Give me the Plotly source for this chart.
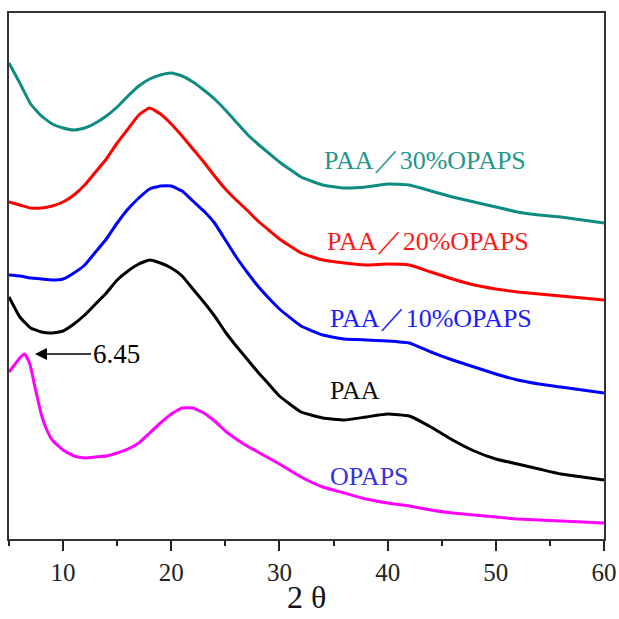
import plotly.graph_objects as go

# 2-theta grid shared by the PAA-based patterns (degrees)
two_theta = [5, 6, 7, 8, 9, 10, 11, 12, 13, 14, 15, 16, 17, 18, 19, 20, 21, 22, 23, 24,
             25, 26, 27, 28, 29, 30, 32, 34, 36, 38, 40, 42, 44, 46, 48, 50, 52, 54, 56, 58, 60]

# OPAPS pattern has its own grid to resolve the sharp low-angle peak at 6.45
two_theta_opaps = [5, 5.5, 6, 6.45, 6.9, 7.5, 8, 8.5, 9, 10, 11, 12, 13, 14, 15, 16, 17, 18,
                   19, 20, 21, 22, 23, 24, 25, 26, 27, 28, 29, 30, 32, 34, 36, 38, 40, 42,
                   44, 46, 48, 50, 52, 54, 56, 58, 60]

# Stacked intensities (a.u., vertically offset)
paa_30 = [476, 456, 435, 423, 415, 411, 409, 411, 416, 423, 432, 443, 453, 460, 464, 466,
          463, 457, 449, 440, 429, 417, 405, 395, 386, 377, 362, 354, 351, 352, 355, 354,
          348, 342, 337, 332, 327, 324, 322, 319, 316]
paa_20 = [337, 334, 331, 331, 333, 337, 344, 354, 367, 380, 396, 410, 424, 431, 425, 415,
          403, 390, 377, 363, 350, 339, 329, 318, 309, 300, 286, 279, 276, 274, 275, 274,
          267, 260, 254, 250, 247, 245, 243, 241, 239]
paa_10 = [264, 263, 261, 260, 259, 260, 266, 274, 287, 300, 316, 330, 341, 350, 353, 353,
          348, 338, 328, 316, 299, 282, 267, 253, 241, 230, 213, 204, 200, 199, 198, 196,
          187, 179, 172, 165, 159, 155, 152, 149, 146]
paa = [242, 222, 211, 207, 206, 208, 215, 224, 235, 246, 259, 268, 275, 279, 276, 271,
       263, 250, 237, 223, 207, 193, 180, 167, 155, 143, 127, 121, 119, 122, 125, 123,
       112, 99, 88, 80, 75, 70, 65, 62, 59]
opaps = [167, 174, 181, 185, 176, 147, 124, 109, 99, 89, 83, 81, 82, 83, 86, 90, 96, 106,
         116, 125, 131, 131, 126, 118, 108, 100, 93, 87, 81, 75, 62, 52, 46, 40, 36, 33,
         29, 26, 24, 22, 20, 19, 18, 17, 16]

series_names = ["PAA／30%OPAPS", "PAA／20%OPAPS", "PAA／10%OPAPS", "PAA", "OPAPS"]
line_colors = ["#0f8c82", "#ff0000", "#0000ff", "#000000", "#ff00ff"]
label_colors = ["#24968c", "#ff1a1a", "#1c1cff", "#111111", "#3a30e6"]
# label anchor (2-theta, intensity) for each pattern's name
label_x = [33.9, 34.2, 34.45, 34.45, 34.45]
label_y = [379, 298, 221, 149, 63]

x_title = "2 θ"
peak_text = "6.45"
peak_pos = 6.45

xs = [two_theta, two_theta, two_theta, two_theta, two_theta_opaps]
ys = [paa_30, paa_20, paa_10, paa, opaps]

fig = go.Figure()
for name, x, y, c in zip(series_names, xs, ys, line_colors):
    fig.add_trace(go.Scatter(
        x=x, y=y, mode="lines", name=name,
        line=dict(color=c, width=3, shape="spline", smoothing=0.4),
        showlegend=False,
    ))

serif = "Liberation Serif, DejaVu Serif, serif"

for name, lx, ly, c in zip(series_names, label_x, label_y, label_colors):
    fig.add_annotation(
        x=lx, y=ly, text=name, showarrow=False, xanchor="left", yanchor="middle",
        font=dict(family=serif, size=26, color=c),
    )

# arrow marking the low-angle OPAPS reflection
peak_y = opaps[two_theta_opaps.index(peak_pos)]
fig.add_annotation(
    x=peak_pos + 0.95, y=peak_y, ax=14.9, ay=peak_y, axref="x", ayref="y",
    text=peak_text, showarrow=True, arrowhead=2, arrowsize=1.5, arrowwidth=1.6,
    arrowcolor="#000000", font=dict(family=serif, size=27, color="#000000"),
)

# x-axis title placed below the tick labels
fig.add_annotation(
    xref="paper", yref="paper", x=0.5, y=-0.1103, xanchor="center", yanchor="middle",
    text=x_title, showarrow=False, borderpad=0,
    font=dict(family=serif, size=32, color="#111111"),
)

fig.update_layout(
    width=619, height=619,
    margin=dict(l=9, r=15, t=13, b=80),
    paper_bgcolor="#ffffff", plot_bgcolor="#ffffff",
    xaxis=dict(
        range=[5, 60], tick0=0, dtick=10, automargin=False,
        ticks="outside", ticklen=10, tickwidth=1.5, tickcolor="#222222",
        minor=dict(dtick=5, tick0=0, ticks="outside", ticklen=5, tickwidth=1.5, tickcolor="#222222"),
        showline=True, linecolor="#333333", linewidth=1.6, mirror=True,
        showgrid=False, zeroline=False,
        tickfont=dict(family=serif, size=25, color="#222222"),
    ),
    yaxis=dict(
        range=[0, 526], showticklabels=False, ticks="", automargin=False,
        showline=True, linecolor="#333333", linewidth=1.6, mirror=True,
        showgrid=False, zeroline=False,
    ),
)

fig.write_html("out.html")
